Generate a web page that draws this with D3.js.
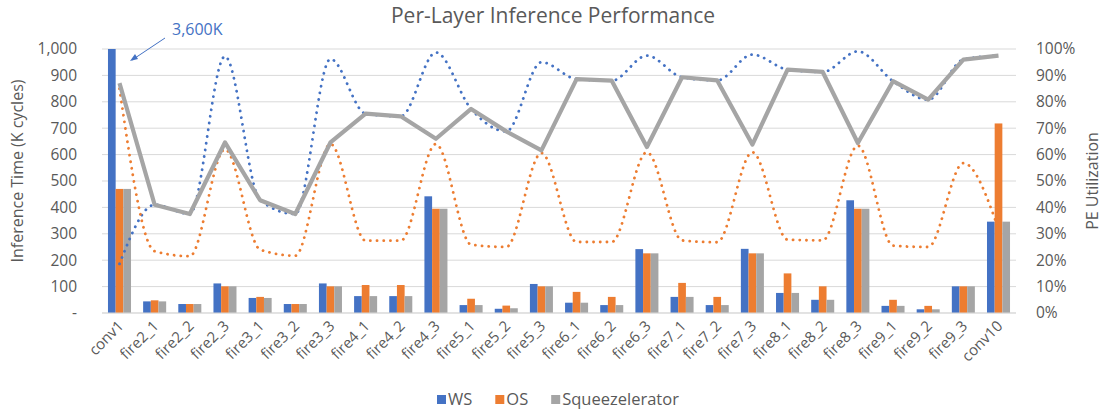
<!DOCTYPE html>
<html>
<head>
<meta charset="utf-8">
<script src="https://cdn.jsdelivr.net/npm/d3@7"></script>
<style>
    body { margin: 0; background: #fff; }
    text { font-family: "Open Sans", "Noto Sans", sans-serif; fill: #595959; }
</style>
</head>
<body>
<div id="chart"></div>
<script>
// Layers
var layers = ["conv1", "fire2_1", "fire2_2", "fire2_3", "fire3_1", "fire3_2", "fire3_3",
    "fire4_1", "fire4_2", "fire4_3", "fire5_1", "fire5_2", "fire5_3", "fire6_1", "fire6_2",
    "fire6_3", "fire7_1", "fire7_2", "fire7_3", "fire8_1", "fire8_2", "fire8_3", "fire9_1",
    "fire9_2", "fire9_3", "conv10"];

// Inference time (K cycles)
var timeWS = [3600, 44, 34, 112, 57, 34, 112, 64, 64, 442, 30, 16, 110, 39, 30, 242, 61, 30,
    243, 76, 50, 427, 27, 14, 101, 346];
var timeOS = [470, 48, 34, 101, 61, 34, 101, 106, 106, 395, 54, 28, 101, 80, 61, 226, 114, 61,
    226, 150, 101, 395, 50, 27, 101, 718];
var timeSq = [470, 44, 34, 101, 57, 34, 101, 64, 64, 395, 30, 18, 101, 39, 30, 226, 61, 30,
    226, 76, 50, 395, 27, 14, 101, 346];

// PE utilization (%)
var utilWS = [18.6, 41, 37.5, 97.2, 42.7, 37.5, 96.2, 75.5, 74.5, 98.7, 77.3, 68.8, 95, 88.6,
    88, 97.5, 89.3, 88.1, 97.9, 92.2, 91.3, 99.1, 87.8, 80.8, 96, 97.5];
var utilOS = [85, 23.4, 21.5, 62, 24, 21.7, 64, 27.4, 27.4, 64, 25.9, 25, 60.6, 26.9, 26.9,
    60.9, 27.5, 26.8, 60.9, 27.8, 27.5, 63.4, 25.5, 25, 56.8, 31.8];
var utilSq = [87.1, 41, 37.5, 64.6, 42.7, 37.5, 64.6, 75.5, 74.5, 66, 77.3, 68.8, 61.6, 88.6,
    88, 62.9, 89.3, 88.1, 63.8, 92.2, 91.3, 64.4, 87.8, 80.8, 96, 97.5];

var timeTicks = [0, 100, 200, 300, 400, 500, 600, 700, 800, 900, 1000];
var utilTicks = [0, 10, 20, 30, 40, 50, 60, 70, 80, 90, 100];

var seriesNames = ["WS", "OS", "Squeezelerator"];
var colors = {WS: "#4472C4", OS: "#ED7D31", Squeezelerator: "#A5A5A5"};

var width = 1104,
    height = 410,
    margin = {top: 49, right: 88, bottom: 97, left: 102},
    innerW = width - margin.left - margin.right,
    innerH = height - margin.top - margin.bottom;

var svg = d3.select("#chart").append("svg")
    .attr("width", width)
    .attr("height", height);

var g = svg.append("g")
    .attr("transform", "translate(" + margin.left + "," + margin.top + ")");

var x = d3.scaleBand().domain(layers).range([0, innerW]).paddingInner(0.345).paddingOuter(0.17),
    xs = d3.scaleBand().domain(seriesNames).range([0, x.bandwidth()]),
    yT = d3.scaleLinear().domain([0, 1000]).range([innerH, 0]),
    yU = d3.scaleLinear().domain([0, 100]).range([innerH, 0]);

function cx(d) { return x(d) + x.bandwidth() / 2; }

// Title
svg.append("text")
    .attr("x", 553).attr("y", 23)
    .style("text-anchor", "middle")
    .style("font-size", "21px")
    .text("Per-Layer Inference Performance");

// Gridlines
g.selectAll(".grid").data(timeTicks).enter().append("line")
    .attr("x1", 0).attr("x2", innerW)
    .attr("y1", function (d) { return yT(d); })
    .attr("y2", function (d) { return yT(d); })
    .attr("stroke", "#d9d9d9")
    .attr("stroke-width", 1);

// Left axis
var fmt = d3.format(",");
var leftAxis = g.append("g")
    .attr("transform", "translate(-22,0)")
    .call(d3.axisLeft(yT).tickValues(timeTicks).tickSize(0)
        .tickFormat(function (d) { return d === 0 ? "-" : fmt(d); }));
leftAxis.select(".domain").remove();
leftAxis.selectAll("text").style("font-size", "15.5px").attr("fill", "#595959");

// Right axis
var rightAxis = g.append("g")
    .attr("transform", "translate(" + (innerW + 17) + ",0)")
    .call(d3.axisRight(yU).tickValues(utilTicks).tickSize(0)
        .tickFormat(function (d) { return d + "%"; }));
rightAxis.select(".domain").remove();
rightAxis.selectAll("text").style("font-size", "15.5px").attr("fill", "#595959");

// Axis titles
svg.append("text")
    .attr("transform", "translate(23," + (margin.top + innerH / 2 - 10) + ") rotate(-90)")
    .style("text-anchor", "middle")
    .style("font-size", "16px")
    .text("Inference Time (K cycles)");
svg.append("text")
    .attr("transform", "translate(1098,181) rotate(-90)")
    .style("text-anchor", "middle")
    .style("font-size", "16px")
    .text("PE Utilization");

// Bars
var timeData = {WS: timeWS, OS: timeOS, Squeezelerator: timeSq};
seriesNames.forEach(function (s) {
    g.selectAll(".bar-" + s).data(layers).enter().append("rect")
        .attr("x", function (d) { return x(d) + xs(s); })
        .attr("width", xs.bandwidth())
        .attr("y", function (d, i) { return yT(Math.min(timeData[s][i], 1000)); })
        .attr("height", function (d, i) { return innerH - yT(Math.min(timeData[s][i], 1000)); })
        .attr("fill", colors[s]);
});

// X axis line and labels
g.append("line")
    .attr("x1", 0).attr("x2", innerW)
    .attr("y1", innerH).attr("y2", innerH)
    .attr("stroke", "#d9d9d9");
g.selectAll(".xlab").data(layers).enter().append("text")
    .attr("transform", function (d) {
        return "translate(" + (cx(d) + 5) + "," + (innerH + 14) + ") rotate(-45)";
    })
    .style("text-anchor", "end")
    .style("font-size", "15px")
    .text(function (d) { return d; });

// Utilization lines
var smooth = d3.line()
    .x(function (d, i) { return cx(layers[i]); })
    .y(function (d) { return yU(d); })
    .curve(d3.curveMonotoneX);
var straight = d3.line()
    .x(function (d, i) { return cx(layers[i]); })
    .y(function (d) { return yU(d); });

g.append("path").datum(utilWS)
    .attr("fill", "none").attr("stroke", colors.WS)
    .attr("stroke-width", 2.8).attr("stroke-linecap", "round")
    .attr("stroke-dasharray", "0.1,6.6")
    .attr("d", smooth);
g.append("path").datum(utilOS)
    .attr("fill", "none").attr("stroke", colors.OS)
    .attr("stroke-width", 2.8).attr("stroke-linecap", "round")
    .attr("stroke-dasharray", "0.1,6.6")
    .attr("d", smooth);
g.append("path").datum(utilSq)
    .attr("fill", "none").attr("stroke", colors.Squeezelerator)
    .attr("stroke-width", 4.2).attr("stroke-linejoin", "round")
    .attr("d", straight);

// Annotation for the clipped conv1 WS bar
svg.append("line")
    .attr("x1", 165).attr("y1", 38).attr("x2", 132).attr("y2", 60)
    .attr("stroke", "#4472C4").attr("stroke-width", 1);
svg.append("path")
    .attr("d", "M130,61 L135,54 L138,59 Z")
    .attr("fill", "#4472C4");
svg.append("text")
    .attr("x", 172).attr("y", 35)
    .style("font-size", "16px")
    .style("fill", "#4472C4")
    .text("3,600K");

// Legend
var legend = svg.append("g").attr("transform", "translate(437,394)");
var lx = 0;
seriesNames.forEach(function (s) {
    var item = legend.append("g").attr("transform", "translate(" + lx + ",0)");
    item.append("rect").attr("width", 9).attr("height", 9).attr("y", 1).attr("fill", colors[s]);
    var t = item.append("text").attr("x", 11).attr("y", 11)
        .style("font-size", "16.5px").text(s);
    lx += 11 + t.node().getComputedTextLength() + 23;
});
</script>
</body>
</html>
